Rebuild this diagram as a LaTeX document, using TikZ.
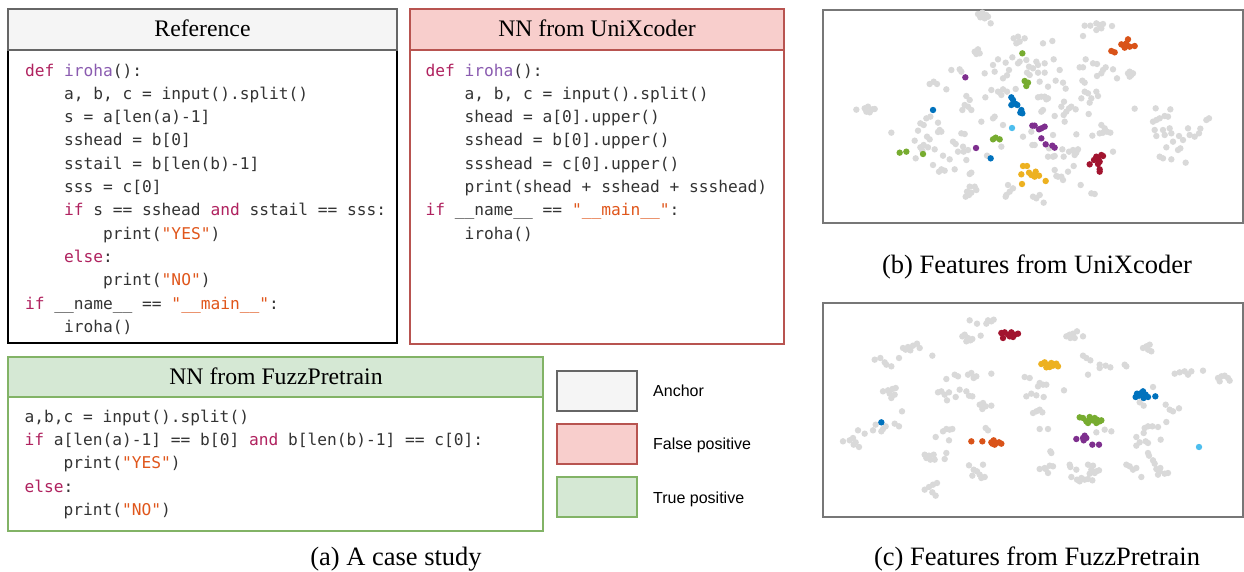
\documentclass[tikz,border=0pt]{standalone}
\usepackage{fontspec}
\setmainfont{Liberation Serif}
\newfontfamily\codefont{DejaVu Sans Mono}
\newfontfamily\legendfont{Liberation Sans}

% box palette
\definecolor{ancFill}{HTML}{F5F5F5}
\definecolor{ancLine}{HTML}{666666}
\definecolor{fpFill}{HTML}{F8CECC}
\definecolor{fpLine}{HTML}{B85450}
\definecolor{tpFill}{HTML}{D5E8D4}
\definecolor{tpLine}{HTML}{82B366}
% code highlighting
\definecolor{codeTxt}{HTML}{333333}
\definecolor{codeKw}{HTML}{B0225F}
\definecolor{codeFn}{HTML}{8A5BB0}
\definecolor{codeStr}{HTML}{E0561B}
% scatter palette
\definecolor{ptGray}{HTML}{D9D9D9}
\definecolor{ptBlue}{HTML}{0072BD}
\definecolor{ptOrange}{HTML}{D95319}
\definecolor{ptYellow}{HTML}{EDB120}
\definecolor{ptPurple}{HTML}{7E2F8E}
\definecolor{ptGreen}{HTML}{77AC30}
\definecolor{ptCyan}{HTML}{4DBEEE}
\definecolor{ptRed}{HTML}{A2142F}
\definecolor{frameLine}{HTML}{777777}

\newcommand\cKw[1]{\textcolor{codeKw}{#1}}
\newcommand\cFn[1]{\textcolor{codeFn}{#1}}
\newcommand\cStr[1]{\textcolor{codeStr}{#1}}
\newcommand\us{\textunderscore}
\newcommand\ind{\phantom{xxxx}}
\newcommand\ptset[2]{\foreach \p in {#2} \fill[#1] \p circle[radius=9.6];}

\tikzset{
  codeline/.style={anchor=base west, inner sep=0pt, text=codeTxt,
    font=\codefont\fontsize{16.2}{20}\selectfont},
  boxtitle/.style={anchor=base, inner sep=0pt, font=\fontsize{23.7}{28}\selectfont},
  caption/.style={anchor=base, inner sep=0pt, font=\fontsize{26.5}{30}\selectfont},
  legendtext/.style={anchor=base west, inner sep=0pt, font=\legendfont\fontsize{16}{19}\selectfont},
  boxline/.style={line width=1.3pt},
  frame/.style={draw=frameLine, line width=1.6pt},
  righthalf/.style={shift={(630,0)}},
}

\begin{document}
\begin{tikzpicture}[x=1pt,y=-1pt]
\useasboundingbox (0,0) rectangle (1244,571);
\fill[white] (0,0) rectangle (1244,571);

% ---------- Reference ----------
\draw[boxline, draw=black, fill=white] (8,50) rectangle (397,343);
\draw[boxline, draw=ancLine, fill=ancFill] (8,9) rectangle (397,50);
\node[boxtitle] (refTitle) at (202.5,36) {Reference};
\foreach \t [count=\i] in {
  {\cKw{def} \cFn{iroha}():},
  {\ind a, b, c = input().split()},
  {\ind s = a[len(a)-1]},
  {\ind sshead = b[0]},
  {\ind sstail = b[len(b)-1]},
  {\ind sss = c[0]},
  {\ind \cKw{if} s == sshead \cKw{and} sstail == sss:},
  {\ind\ind print(\cStr{"YES"})},
  {\ind \cKw{else}:},
  {\ind\ind print(\cStr{"NO"})},
  {\cKw{if} \us\us name\us\us{} == \cStr{"\us\us main\us\us"}:},
  {\ind iroha()}}
  \node[codeline] (ref\i) at (25,{76+23.33*(\i-1)}) {\t};

% ---------- NN from UniXcoder ----------
\draw[boxline, draw=fpLine, fill=white] (410,50) rectangle (784,344);
\draw[boxline, draw=fpLine, fill=fpFill] (410,9) rectangle (784,50);
\node[boxtitle] (uniTitle) at (597,36) {NN from UniXcoder};
\foreach \t [count=\i] in {
  {\cKw{def} \cFn{iroha}():},
  {\ind a, b, c = input().split()},
  {\ind shead = a[0].upper()},
  {\ind sshead = b[0].upper()},
  {\ind ssshead = c[0].upper()},
  {\ind print(shead + sshead + ssshead)},
  {\cKw{if} \us\us name\us\us{} == \cStr{"\us\us main\us\us"}:},
  {\ind iroha()}}
  \node[codeline] (uni\i) at (425.5,{76+23.33*(\i-1)}) {\t};

% ---------- NN from FuzzPretrain ----------
\draw[boxline, draw=tpLine, fill=white] (8,397) rectangle (543,531);
\draw[boxline, draw=tpLine, fill=tpFill] (8,357) rectangle (543,397);
\node[boxtitle] (fuzzTitle) at (276,384) {NN from FuzzPretrain};
\foreach \t [count=\i] in {
  {a,b,c = input().split()},
  {\cKw{if} a[len(a)-1] == b[0] \cKw{and} b[len(b)-1] == c[0]:},
  {\ind print(\cStr{"YES"})},
  {\cKw{else}:},
  {\ind print(\cStr{"NO"})}}
  \node[codeline] (fuzz\i) at (24.5,{422+23.33*(\i-1)}) {\t};

% ---------- legend ----------
\draw[boxline, draw=ancLine, fill=ancFill] (557,371) rectangle (637,411);
\draw[boxline, draw=fpLine, fill=fpFill] (557,424) rectangle (637,464);
\draw[boxline, draw=tpLine, fill=tpFill] (557,477) rectangle (637,517);
\node[legendtext] (legAnchor) at (653,396) {Anchor};
\node[legendtext] (legFalse) at (653,449) {False positive};
\node[legendtext] (legTrue) at (653,503) {True positive};

% ---------- captions ----------
\node[caption] (capA) at (396,565) {(a) A case study};
\node[caption] (capB) at (1037,273) {(b) Features from UniXcoder};
\node[caption] (capC) at (1037,565) {(c) Features from FuzzPretrain};

% ---------- t-SNE of UniXcoder features ----------
\draw[frame] (823,10) rectangle (1243,223);
\begin{scope}[shift={(823,10)}, scale=1/3]
\ptset{ptGray}{(465,12),(478,8),(490,15),(472,22),(485,25),(495,20),(503,40),
 (572,85),(585,80),(590,95),(605,85),(580,100),
 (455,125),(465,118),(470,130),(460,132),
 (385,180),(410,178),(415,185),
 (485,190),(510,165),(525,148),(548,158),(568,142),(585,160),(558,180),(515,185),(540,205),(552,196),(590,155),(610,150),(618,170),(612,188),(620,195),
 (320,222),(332,215),(342,222),(370,238),
 (505,240),(525,245),(540,238),(552,245),(578,237),(535,255),(487,262),
 (430,258),(440,270),(425,285),(418,300),(445,300),(435,290),
 (100,299),(125,295),(135,290),(148,298),(155,297),(130,305),(140,307),
 (310,325),(322,320),(292,340),(302,345),(345,338),(285,362),(350,360),(355,365),(345,366),
 (205,368),(312,380),(320,388),(275,392),(292,412),(302,405),(315,412),(335,418),(278,445),(298,422),
 (415,370),(425,372),(390,395),(398,402),(420,410),(405,425),(422,425),(435,420),(430,450),
 (475,335),(515,320),(510,325),(540,345),(600,380),(625,365),(535,410),(492,437),(628,405),
 (330,465),(360,437),(355,478),(348,485),(365,482),(380,448),(395,478),
 (445,488),(440,492),
 (440,530),(455,530),(432,545),(445,548),(460,540),(428,560),(438,555),
 (555,525),(570,535),(560,545),(550,555),(548,560)}
\begin{scope}[righthalf]
\ptset{ptGray}{(155,47),(172,47),(190,40),(200,45),(210,42),(190,60),(205,55),(237,48),(150,78),
 (30,100),(58,93),
 (10,155),(15,165),(35,160),(0,175),(15,188),(35,188),(62,148),(80,180),(140,172),(150,172),(158,148),(180,160),(192,162),(218,172),(210,180),(205,190),(240,178),(192,198),(252,205),
 (285,190),(295,195),(290,185),(300,190),(290,200),
 (20,215),(45,230),(68,212),(90,218),(98,236),(148,212),(155,218),
 (15,262),(25,260),(35,260),(45,265),(40,268),(155,245),(165,250),(190,245),(175,265),(195,258),(170,278),(145,265),(93,275),(85,290),(100,305),(108,295),(115,290),(128,298),(92,315),(65,318),(95,335),(30,300),(25,305),(167,312),
 (305,296),(368,295),(412,298),(395,318),(380,325),(370,330),(360,335),(405,320),(528,325),(520,330),
 (205,345),(215,355),(210,368),(200,370),(222,365),(232,368),(178,377),(130,373),(60,375),
 (365,360),(390,360),(410,355),(415,370),(395,375),(370,378),(438,378),(465,355),(470,375),(485,380),(498,370),(502,356),(420,395),(450,390),(442,415),(435,420),(400,412),(380,440),(390,445),(415,448),(458,458),
 (5,405),(48,415),(45,440),(60,440),(65,438),(88,418),(92,440),(108,425),(120,420),(130,428),(135,418),(125,435),(240,425),
 (122,468),(105,485),(75,500),(90,510),(65,480),(70,498),(85,500),
 (143,525),(175,550),(185,552),
 (10,565),(20,555),(32,578),(0,560)}
\end{scope}
\ptset{ptGreen}{(598,130),(605,213),(615,218),(610,228),(230,428),(250,425),(300,432),(510,388),(518,383),(530,388)}
\ptset{ptPurple}{(427,202),(459,414),(628,347)}
\ptset{ptBlue}{(565,262),(570,270),(565,285),(578,282),(583,285),(595,300),(598,310),(592,308),(330,300),(503,445)}
\ptset{ptCyan}{(567,354)}
\ptset{ptYellow}{(600,468),(612,468),(595,493),(618,488),(625,495),(597,522)}
\begin{scope}[righthalf]
\ptset{ptOrange}{(235,123),(245,127),(270,105),(280,100),(285,88),(290,110),(275,113),(305,108),(265,103)}
\ptset{ptPurple}{(5,347),(18,358),(25,355),(35,350),(25,385),(38,403),(58,407),(65,413)}
\ptset{ptRed}{(170,463),(183,450),(195,448),(205,435),(210,438),(200,455),(195,462),(200,478),(200,485),(190,440)}
\ptset{ptYellow}{(8,485),(18,497),(5,500),(38,513)}
\end{scope}
\end{scope}

% ---------- t-SNE of FuzzPretrain features ----------
\draw[frame] (823,303) rectangle (1243,517);
\begin{scope}[shift={(823,303)}, scale=1/3]
\ptset{ptGray}{(440,52),(462,62),(495,52),(505,55),(512,50),(490,62),
 (418,100),(425,95),(435,105),(442,112),(430,115),(448,108),(473,98),
 (240,135),(255,132),(270,128),(282,122),(290,135),(262,142),(248,140),
 (155,170),(172,165),(185,178),(190,185),(205,190),(228,165),
 (328,158),
 (370,228),(395,215),(405,220),(435,215),(445,210),(460,220),(452,225),(505,212),
 (605,222),(620,225),(610,280),(625,272),
 (345,268),(355,265),(365,275),(372,292),(378,268),(398,282),(410,260),(430,265),(438,278),(448,280),
 (180,265),(195,262),(208,258),(218,255),(200,272),(205,285),(215,275),
 (470,305),(480,300),(488,310),(505,308),(478,318),
 (237,325),
 (105,382),(125,392),(150,382),(158,365),(180,378),(188,370),(175,385),(215,362),(228,370),(60,415),(80,412),(90,405),(98,418),(108,432),(92,425),
 (360,385),(370,378),(380,380),(388,378),(338,402),(378,412),(488,375),(495,382),
 (305,455),(318,458),(332,455),(322,470),(335,470),(310,465),(370,450),(365,468),
 (438,487),(452,500),(462,505),(480,485),(448,518),(470,515),(485,522),(475,525),
 (305,560),(318,552),(330,545),(342,540),(328,568),(338,578)}
\begin{scope}[righthalf]
\ptset{ptGray}{(100,100),(110,95),(120,92),(132,85),(125,105),(150,100),(112,105),
 (330,135),(340,130),(350,125),(355,145),(345,140),
 (150,158),(160,165),(172,172),(200,185),(200,195),(218,188),(232,193),(275,185),(280,190),
 (165,215),
 (425,212),(440,208),(455,205),(465,215),(475,205),(510,203),(555,225),(565,220),(575,218),(585,225),(590,233),(560,235),
 (20,240),(30,245),(40,245),(15,250),
 (10,277),(32,282),(93,262),(360,252),
 (320,298),(332,308),(398,305),(410,320),(420,325),(438,316),(400,357),
 (10,325),(20,320),(28,328),(0,330),
 (20,378),(45,378),(215,380),(235,385),(190,388),
 (335,375),(345,370),(358,370),(375,372),(332,390),(310,402),(383,410),(338,415),(345,420),(320,418),(310,428),(345,450),(348,458),(360,472),(365,482),
 (52,445),(55,450),
 (20,498),(35,495),(50,488),(60,490),(45,510),(38,498),
 (110,485),(112,492),(130,500),(165,485),(180,488),(175,500),(190,505),(198,502),(185,510),(170,512),(115,522),(132,530),(145,525),(155,530),(165,528),(178,532),(140,535),
 (280,485),(290,490),(300,500),(310,495),(325,522),
 (370,498),(380,505),(375,515),(382,495),(405,510),(395,512)}
\end{scope}
\ptset{ptRed}{(535,90),(545,88),(555,95),(565,88),(575,95),(585,92),(570,102),(540,105),(560,100)}
\ptset{ptBlue}{(175,358)}
\ptset{ptOrange}{(445,415),(478,415),(505,418),(512,412),(520,420),(528,418),(535,422),(515,425),(508,422)}
\begin{scope}[righthalf]
\ptset{ptYellow}{(25,183),(35,178),(45,185),(50,192),(60,188),(70,182),(75,190),(40,193),(55,180)}
\ptset{ptBlue}{(308,282),(318,278),(325,270),(330,265),(338,275),(345,282),(332,285),(312,272),(367,280)}
\ptset{ptGreen}{(140,343),(150,345),(160,355),(170,342),(178,352),(185,345),(192,350),(200,355),(205,352),(165,360),(190,360)}
\ptset{ptPurple}{(130,408),(150,405),(155,398),(160,405),(152,412),(178,425),(198,425)}
\ptset{ptCyan}{(498,432)}
\end{scope}
\end{scope}
\end{tikzpicture}
\end{document}
